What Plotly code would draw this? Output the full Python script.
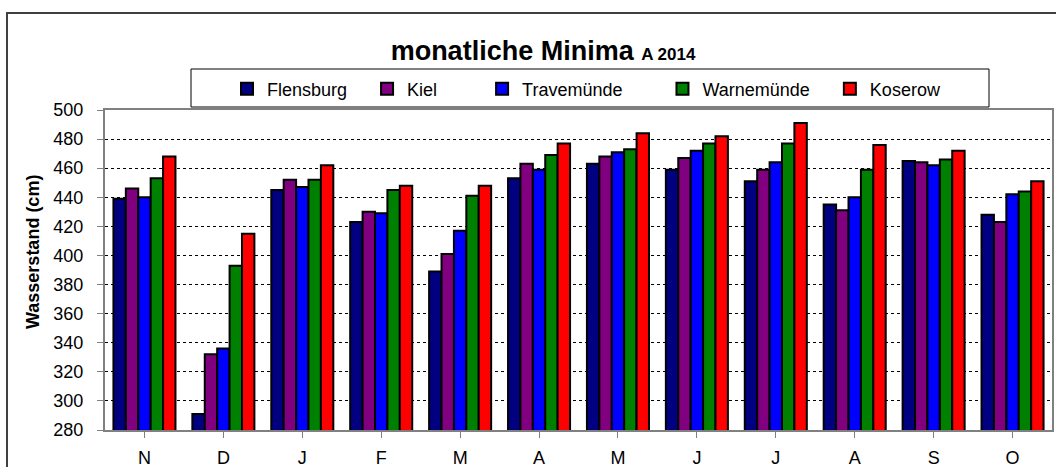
import plotly.graph_objects as go

months = ["N", "D", "J", "F", "M", "A", "M", "J", "J", "A", "S", "O"]
stations = ["Flensburg", "Kiel", "Travemünde", "Warnemünde", "Koserow"]

flensburg = [439, 291, 445, 423, 389, 453, 463, 459, 451, 435, 465, 428]
kiel = [446, 332, 452, 430, 401, 463, 468, 467, 459, 431, 464, 423]
travemuende = [440, 336, 447, 429, 417, 459, 471, 472, 464, 440, 462, 442]
warnemuende = [453, 393, 452, 445, 441, 469, 473, 477, 477, 459, 466, 444]
koserow = [468, 415, 462, 448, 448, 477, 484, 482, 491, 476, 472, 451]

series = [flensburg, kiel, travemuende, warnemuende, koserow]
colors = ["#000080", "#800080", "#0000FF", "#008000", "#FF0000"]
pads = [3, 8, 7, 3, 0]

FONT = "Liberation Sans, Arial, sans-serif"
x_idx = list(range(len(months)))

fig = go.Figure()
for name, vals, col, p in zip(stations, series, colors, pads):
    fig.add_trace(go.Bar(
        x=x_idx, y=vals, name=name + "\u00a0" * p,
        marker=dict(color=col, line=dict(color="black", width=2)),
    ))

L, R, T, B = 105, 4, 110, 37
W, H = 1056, 467
pw, ph = W - L - R, H - T - B

def px(x):
    return (x - L) / pw

def py(y):
    return (H - B - y) / ph

fig.update_layout(
    width=W, height=H,
    margin=dict(l=L, r=R, t=T, b=B, autoexpand=False),
    paper_bgcolor="white", plot_bgcolor="white",
    font=dict(family=FONT, size=18, color="black"),
    barmode="group", bargap=0.214, bargroupgap=0,
    title=dict(
        text="<b>monatliche Minima <span style='font-size:17px'>A 2014</span></b>",
        font=dict(family=FONT, size=27, color="black"),
        x=543 / W, xanchor="center", y=1 - 51 / H, yanchor="middle",
    ),
    showlegend=True,
    legend=dict(
        orientation="h", x=px(227), xanchor="left", y=py(89), yanchor="middle",
        bgcolor="rgba(0,0,0,0)", borderwidth=0,
        font=dict(family=FONT, size=18, color="black"),
        traceorder="normal",
    ),
    xaxis=dict(
        tickmode="array", tickvals=x_idx, ticktext=months,
        range=[-0.5, len(months) - 0.5],
        showline=True, linecolor="#808080", linewidth=2, mirror=True,
        ticks="outside", tickson="boundaries", ticklen=6, tickcolor="#808080",
        showgrid=False, zeroline=False,
        tickfont=dict(family=FONT, size=18, color="black"),
        ticklabelstandoff=4,
    ),
    yaxis=dict(
        range=[280, 500], dtick=20, tick0=280,
        showline=True, linecolor="#808080", linewidth=2, mirror=True,
        ticks="outside", ticklen=6, tickcolor="#808080",
        showgrid=True, gridcolor="black", gridwidth=1, griddash="dot",
        zeroline=False,
        tickfont=dict(family=FONT, size=18, color="black"),
        ticklabelstandoff=10,
    ),
    annotations=[dict(
        text="<b>Wasserstand (cm)</b>", textangle=-90,
        xref="paper", yref="paper", x=px(33), y=py(252),
        xanchor="center", yanchor="middle", showarrow=False,
        font=dict(family=FONT, size=18, color="black"),
    )],
    shapes=[
        dict(type="rect", xref="paper", yref="paper",
             x0=px(7), x1=1.05, y0=-0.3, y1=py(13),
             line=dict(color="#404040", width=2), fillcolor="rgba(0,0,0,0)",
             layer="below"),
        dict(type="rect", xref="paper", yref="paper",
             x0=px(191), x1=px(989), y0=py(107), y1=py(69),
             line=dict(color="black", width=1), fillcolor="white",
             layer="above"),
    ],
)

fig.write_html(
    "out.html",
    config={"displayModeBar": False},
    post_script="document.body.style.margin='0';document.body.style.padding='0';",
)
